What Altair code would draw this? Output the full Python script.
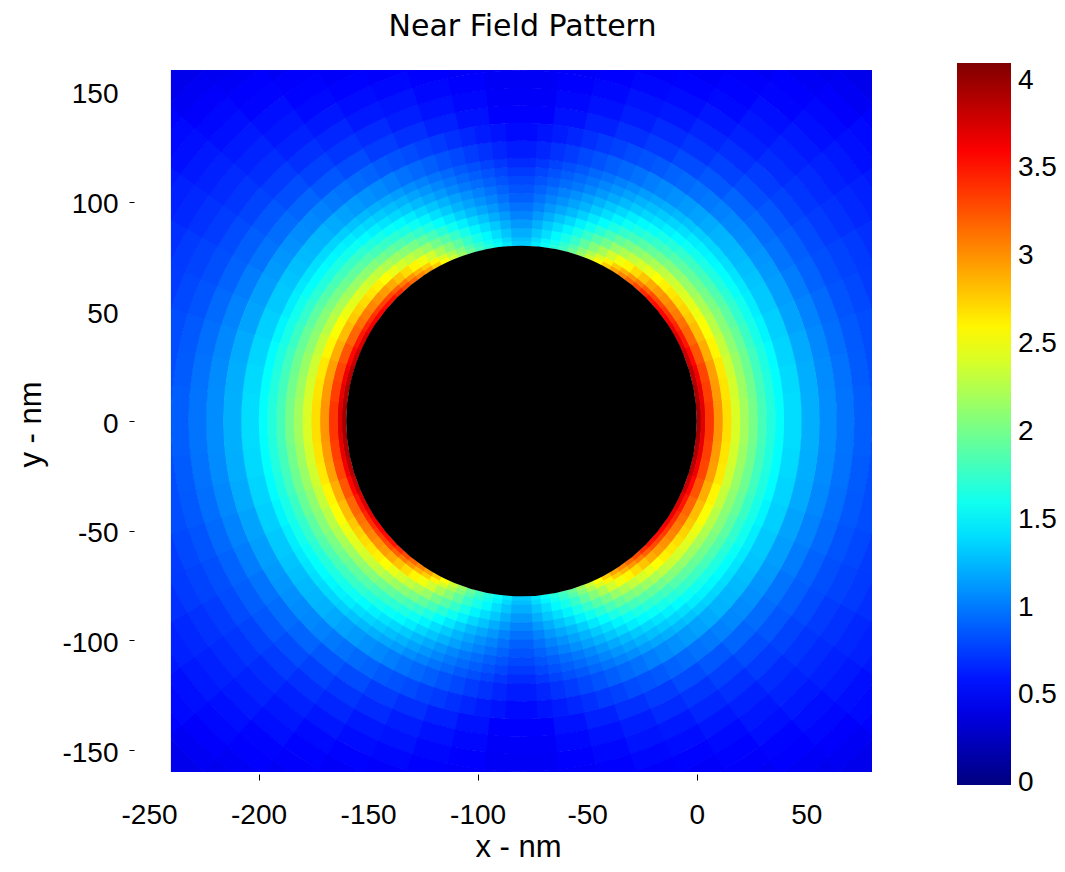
import altair as alt
import pandas as pd

# ---------------- text ----------------
title_text = "Near Field Pattern"
x_title = "x - nm"
y_title = "y - nm"

# ---------------- axes / colorbar ticks ----------------
x_ticks = [-250, -200, -150, -100, -50, 0, 50]
y_ticks = [-150, -100, -50, 0, 50, 100, 150]
colorbar_ticks = [0, 0.5, 1, 1.5, 2, 2.5, 3, 3.5, 4]

x_range = [-250, 80]        # axis range
y_range = [-160, 160]
field_x_range = [-240, 80]  # extent of the computed field

# jet colormap over the colorbar range
colorbar_min = -0.01
value_max = 4.1
jet_fractions = [0, 0.125, 0.375, 0.625, 0.875, 1]
jet_colors = ["#000080", "#0000ff", "#00ffff", "#ffff00", "#ff0000", "#800000"]

# ---------------- the particle ----------------
sphere_center = [-80, 0]
sphere_radius = 80

# ---------------- field values, polar cells around the sphere ----------------
# one quadrant (angle from the +x axis, 0..90 deg); the pattern is mirror-symmetric in x and y.
# each list = one angular sector, values from the innermost ring outwards.

# near rim: rings 80..136 nm
inner_ring_edges = [80, 82, 84, 88, 92, 96, 100, 104, 108, 112, 116, 120, 128, 136]
inner_sector_edges = [0, 6, 12, 18, 24, 30, 33, 36, 39, 42, 45, 48, 51, 54, 57, 60,
                      63, 66, 69, 72, 75, 78, 81, 84, 87, 90]

rim_s01 = [3.95, 3.71, 3.37, 2.99, 2.69, 2.41, 2.19, 2.01, 1.82, 1.68, 1.55, 1.40, 1.22]
rim_s02 = [3.92, 3.68, 3.34, 2.97, 2.67, 2.39, 2.17, 1.99, 1.81, 1.67, 1.54, 1.39, 1.21]
rim_s03 = [3.88, 3.64, 3.31, 2.95, 2.65, 2.37, 2.15, 1.98, 1.80, 1.66, 1.53, 1.37, 1.20]
rim_s04 = [3.80, 3.57, 3.25, 2.89, 2.60, 2.33, 2.11, 1.95, 1.77, 1.63, 1.50, 1.35, 1.17]
rim_s05 = [3.72, 3.50, 3.18, 2.83, 2.55, 2.28, 2.08, 1.91, 1.74, 1.60, 1.47, 1.32, 1.15]
rim_s06 = [3.67, 3.44, 3.13, 2.78, 2.50, 2.24, 2.04, 1.88, 1.71, 1.57, 1.45, 1.30, 1.13]
rim_s07 = [3.63, 3.40, 3.09, 2.74, 2.46, 2.21, 2.01, 1.85, 1.68, 1.55, 1.43, 1.28, 1.11]
rim_s08 = [3.59, 3.36, 3.05, 2.70, 2.43, 2.17, 1.98, 1.82, 1.66, 1.53, 1.41, 1.26, 1.09]
rim_s09 = [3.55, 3.32, 3.00, 2.66, 2.39, 2.14, 1.94, 1.79, 1.64, 1.51, 1.39, 1.25, 1.07]
rim_s10 = [3.51, 3.28, 2.96, 2.62, 2.35, 2.10, 1.91, 1.77, 1.61, 1.49, 1.37, 1.23, 1.06]
rim_s11 = [3.42, 3.20, 2.90, 2.56, 2.30, 2.06, 1.87, 1.73, 1.58, 1.46, 1.34, 1.20, 1.03]
rim_s12 = [3.30, 3.09, 2.80, 2.48, 2.23, 2.00, 1.81, 1.68, 1.53, 1.41, 1.30, 1.16, 1.00]
rim_s13 = [3.17, 2.98, 2.70, 2.40, 2.16, 1.94, 1.76, 1.62, 1.48, 1.37, 1.26, 1.13, 0.97]
rim_s14 = [3.05, 2.86, 2.60, 2.32, 2.09, 1.88, 1.71, 1.57, 1.43, 1.33, 1.22, 1.09, 0.94]
rim_s15 = [2.93, 2.75, 2.51, 2.24, 2.02, 1.81, 1.65, 1.52, 1.38, 1.28, 1.18, 1.06, 0.91]
rim_s16 = [2.76, 2.60, 2.38, 2.14, 1.93, 1.74, 1.58, 1.46, 1.33, 1.23, 1.14, 1.02, 0.87]
rim_s17 = [2.56, 2.42, 2.22, 2.00, 1.82, 1.64, 1.50, 1.38, 1.26, 1.17, 1.08, 0.97, 0.84]
rim_s18 = [2.36, 2.24, 2.07, 1.88, 1.70, 1.54, 1.41, 1.31, 1.20, 1.11, 1.03, 0.93, 0.81]
rim_s19 = [2.16, 2.06, 1.91, 1.75, 1.59, 1.45, 1.33, 1.23, 1.13, 1.05, 0.98, 0.89, 0.77]
rim_s20 = [1.96, 1.87, 1.75, 1.62, 1.48, 1.35, 1.24, 1.16, 1.06, 0.99, 0.93, 0.84, 0.74]
rim_s21 = [1.80, 1.73, 1.62, 1.50, 1.38, 1.26, 1.17, 1.09, 1.00, 0.94, 0.87, 0.80, 0.70]
rim_s22 = [1.68, 1.61, 1.52, 1.41, 1.30, 1.19, 1.10, 1.03, 0.95, 0.89, 0.83, 0.75, 0.66]
rim_s23 = [1.57, 1.50, 1.41, 1.32, 1.21, 1.12, 1.04, 0.97, 0.90, 0.84, 0.78, 0.71, 0.62]
rim_s24 = [1.45, 1.39, 1.31, 1.22, 1.13, 1.04, 0.97, 0.91, 0.85, 0.79, 0.73, 0.66, 0.59]
rim_s25 = [1.33, 1.28, 1.21, 1.13, 1.04, 0.97, 0.90, 0.85, 0.80, 0.74, 0.68, 0.62, 0.55]

inner_rows = [rim_s01, rim_s02, rim_s03, rim_s04, rim_s05, rim_s06, rim_s07, rim_s08, rim_s09,
              rim_s10, rim_s11, rim_s12, rim_s13, rim_s14, rim_s15, rim_s16, rim_s17, rim_s18,
              rim_s19, rim_s20, rim_s21, rim_s22, rim_s23, rim_s24, rim_s25]

# outer field: rings 136..232 nm, sectors of 6 deg
outer_ring_edges = [136, 144, 152, 160, 168, 176, 184, 192, 200, 208, 216, 224, 232]
outer_sector_edges = [0, 6, 12, 18, 24, 30, 36, 42, 48, 54, 60, 66, 72, 78, 84, 90]

out_s01 = [1.08, 0.98, 0.89, 0.83, 0.78, 0.74, 0.71, 0.68, 0.66, 0.63, 0.62, 0.60]
out_s02 = [1.07, 0.97, 0.88, 0.82, 0.77, 0.73, 0.70, 0.67, 0.65, 0.63, 0.61, 0.60]
out_s03 = [1.06, 0.96, 0.87, 0.82, 0.77, 0.73, 0.70, 0.67, 0.65, 0.63, 0.61, 0.59]
out_s04 = [1.04, 0.94, 0.85, 0.80, 0.75, 0.71, 0.68, 0.66, 0.63, 0.61, 0.59, 0.58]
out_s05 = [1.01, 0.91, 0.83, 0.78, 0.74, 0.70, 0.67, 0.64, 0.62, 0.59, 0.58, 0.56]
out_s06 = [0.98, 0.89, 0.81, 0.75, 0.71, 0.67, 0.64, 0.61, 0.59, 0.56, 0.54, 0.53]
out_s07 = [0.95, 0.86, 0.78, 0.72, 0.68, 0.64, 0.61, 0.57, 0.55, 0.52, 0.49, 0.47]
out_s08 = [0.92, 0.82, 0.75, 0.69, 0.65, 0.61, 0.57, 0.54, 0.50, 0.47, 0.44, 0.42]
out_s09 = [0.86, 0.77, 0.70, 0.64, 0.60, 0.57, 0.53, 0.51, 0.48, 0.45, 0.43, 0.41]
out_s10 = [0.81, 0.72, 0.66, 0.60, 0.55, 0.52, 0.50, 0.47, 0.45, 0.44, 0.42, 0.40]
out_s11 = [0.75, 0.68, 0.61, 0.56, 0.52, 0.49, 0.47, 0.46, 0.44, 0.43, 0.41, 0.40]
out_s12 = [0.70, 0.63, 0.59, 0.54, 0.50, 0.48, 0.46, 0.45, 0.44, 0.43, 0.42, 0.41]
out_s13 = [0.64, 0.58, 0.54, 0.51, 0.49, 0.47, 0.45, 0.44, 0.43, 0.43, 0.42, 0.41]
out_s14 = [0.58, 0.54, 0.51, 0.49, 0.47, 0.46, 0.45, 0.44, 0.44, 0.43, 0.42, 0.42]
out_s15 = [0.51, 0.49, 0.48, 0.47, 0.46, 0.45, 0.45, 0.44, 0.44, 0.43, 0.43, 0.43]

outer_rows = [out_s01, out_s02, out_s03, out_s04, out_s05, out_s06, out_s07, out_s08,
              out_s09, out_s10, out_s11, out_s12, out_s13, out_s14, out_s15]

# ---------------- build the cell table (mirror the quadrant into all four) ----------------
seam = 0.12  # tiny overlap of neighbouring cells so that no hairline gaps show


def polar_cells(ring_edges, sector_edges, rows):
    out = []
    for j, row in enumerate(rows):
        a0, a1 = sector_edges[j] - seam, sector_edges[j + 1] + seam
        # vega arc angles: 0 = up, clockwise ; one span per quadrant
        spans = [(90 - a1, 90 - a0), (90 + a0, 90 + a1), (270 - a1, 270 - a0), (270 + a0, 270 + a1)]
        for k, v in enumerate(row):
            for t0, t1 in spans:
                out.append({"x0": sphere_center[0], "y0": sphere_center[1], "t0": t0, "t1": t1,
                            "r0": ring_edges[k] - seam, "r1": ring_edges[k + 1] + seam, "v": v})
    return out


field_df = pd.DataFrame(polar_cells(outer_ring_edges, outer_sector_edges, outer_rows)
                        + polar_cells(inner_ring_edges, inner_sector_edges, inner_rows))

mask_df = pd.DataFrame({"x0": [x_range[0]], "x1": [field_x_range[0]], "y0": [y_range[0]], "y1": [y_range[1]]})
sphere_df = pd.DataFrame({"x0": [sphere_center[0]], "y0": [sphere_center[1]]})
title_df = pd.DataFrame({"label": [title_text]})

# ---------------- layout ----------------
W, H = 723, 702
px_per_nm = W / (x_range[1] - x_range[0])
sphere_size = (2 * sphere_radius * px_per_nm) ** 2  # vega circle symbol: diameter = sqrt(size)
r_max = 240
FONT = "Liberation Sans"

color_domain = [colorbar_min] + [f * value_max for f in jet_fractions[1:]]
color_scale = alt.Scale(domain=color_domain, range=jet_colors, interpolate="rgb", clamp=True)

x_axis = alt.Axis(values=x_ticks, labelExpr="'' + datum.value", grid=False, domain=False,
                  offset=2, tickSize=6, tickColor="black", tickWidth=1,
                  tickOpacity={"condition": {"test": "indexof([-200,-100,0], datum.value) >= 0", "value": 1}, "value": 0},
                  labelPadding=21, labelFont=FONT, labelFontSize=28, labelColor="black",
                  labelFlush=False, labelOverlap=False,
                  titleFont=FONT, titleFontSize=31, titleFontWeight="normal", titleColor="black",
                  titleX=369, titleY=82, titleBaseline="alphabetic")

y_axis = alt.Axis(values=y_ticks, labelExpr="'' + datum.value", grid=False, domain=False,
                  offset=15, tickSize=5, tickColor="black", tickWidth=1,
                  tickOpacity={"condition": {"test": "indexof([-150,-100,-50,0,100], datum.value) >= 0", "value": 1}, "value": 0},
                  labelPadding=11, labelOffset=3, labelFont=FONT, labelFontSize=28, labelColor="black",
                  labelFlush=False, labelOverlap=False,
                  titleFont=FONT, titleFontSize=31, titleFontWeight="normal", titleColor="black",
                  titleX=-94, titleY=354, titleBaseline="alphabetic")

legend = alt.Legend(type="gradient", orient="none", legendX=808, legendY=-7, direction="vertical", title=None,
                    values=colorbar_ticks, labelExpr="'' + datum.value",
                    gradientLength=722, gradientThickness=54,
                    gradientStrokeWidth=0, labelFont=FONT, labelFontSize=28, labelColor="black",
                    labelOffset=7, labelBaseline="middle", padding=0, labelOverlap=False)

x_enc = alt.X("x0:Q", scale=alt.Scale(domain=x_range, nice=False, zero=False), axis=x_axis, title=x_title)
y_enc = alt.Y("y0:Q", scale=alt.Scale(domain=y_range, nice=False, zero=False), axis=y_axis, title=y_title)

field = alt.Chart(field_df).mark_arc(strokeWidth=0, clip=True).encode(
    x=x_enc, y=y_enc,
    theta=alt.Theta("t0:Q", scale=alt.Scale(domain=[0, 360], range=[0, 6.283185307179586]), stack=False),
    theta2="t1:Q",
    radius=alt.Radius("r1:Q", scale=alt.Scale(type="linear", domain=[0, r_max], range=[0, r_max * px_per_nm], zero=True)),
    radius2="r0:Q",
    color=alt.Color("v:Q", scale=color_scale, legend=legend),
)

mask = alt.Chart(mask_df).mark_rect(color="white", strokeWidth=0).encode(
    x=x_enc, x2="x1:Q", y=y_enc, y2="y1:Q",
)

sphere = alt.Chart(sphere_df).mark_point(shape="circle", filled=True, color="black", opacity=1,
                                         size=sphere_size, strokeWidth=0).encode(x=x_enc, y=y_enc)

title_mark = alt.Chart(title_df).mark_text(font="DejaVu Sans", fontSize=30, color="black",
                                           align="center", baseline="alphabetic").encode(
    text="label:N", x=alt.value(373.5), y=alt.value(-34),
)

chart = alt.layer(field, mask, sphere, title_mark).properties(
    width=W, height=H,
    autosize=alt.AutoSizeParams(type="none"),
    padding={"left": 141, "top": 62, "right": 185, "bottom": 92},
).configure_view(strokeWidth=0)

chart.save("out.html", embed_options={"renderer": "svg", "actions": False})
